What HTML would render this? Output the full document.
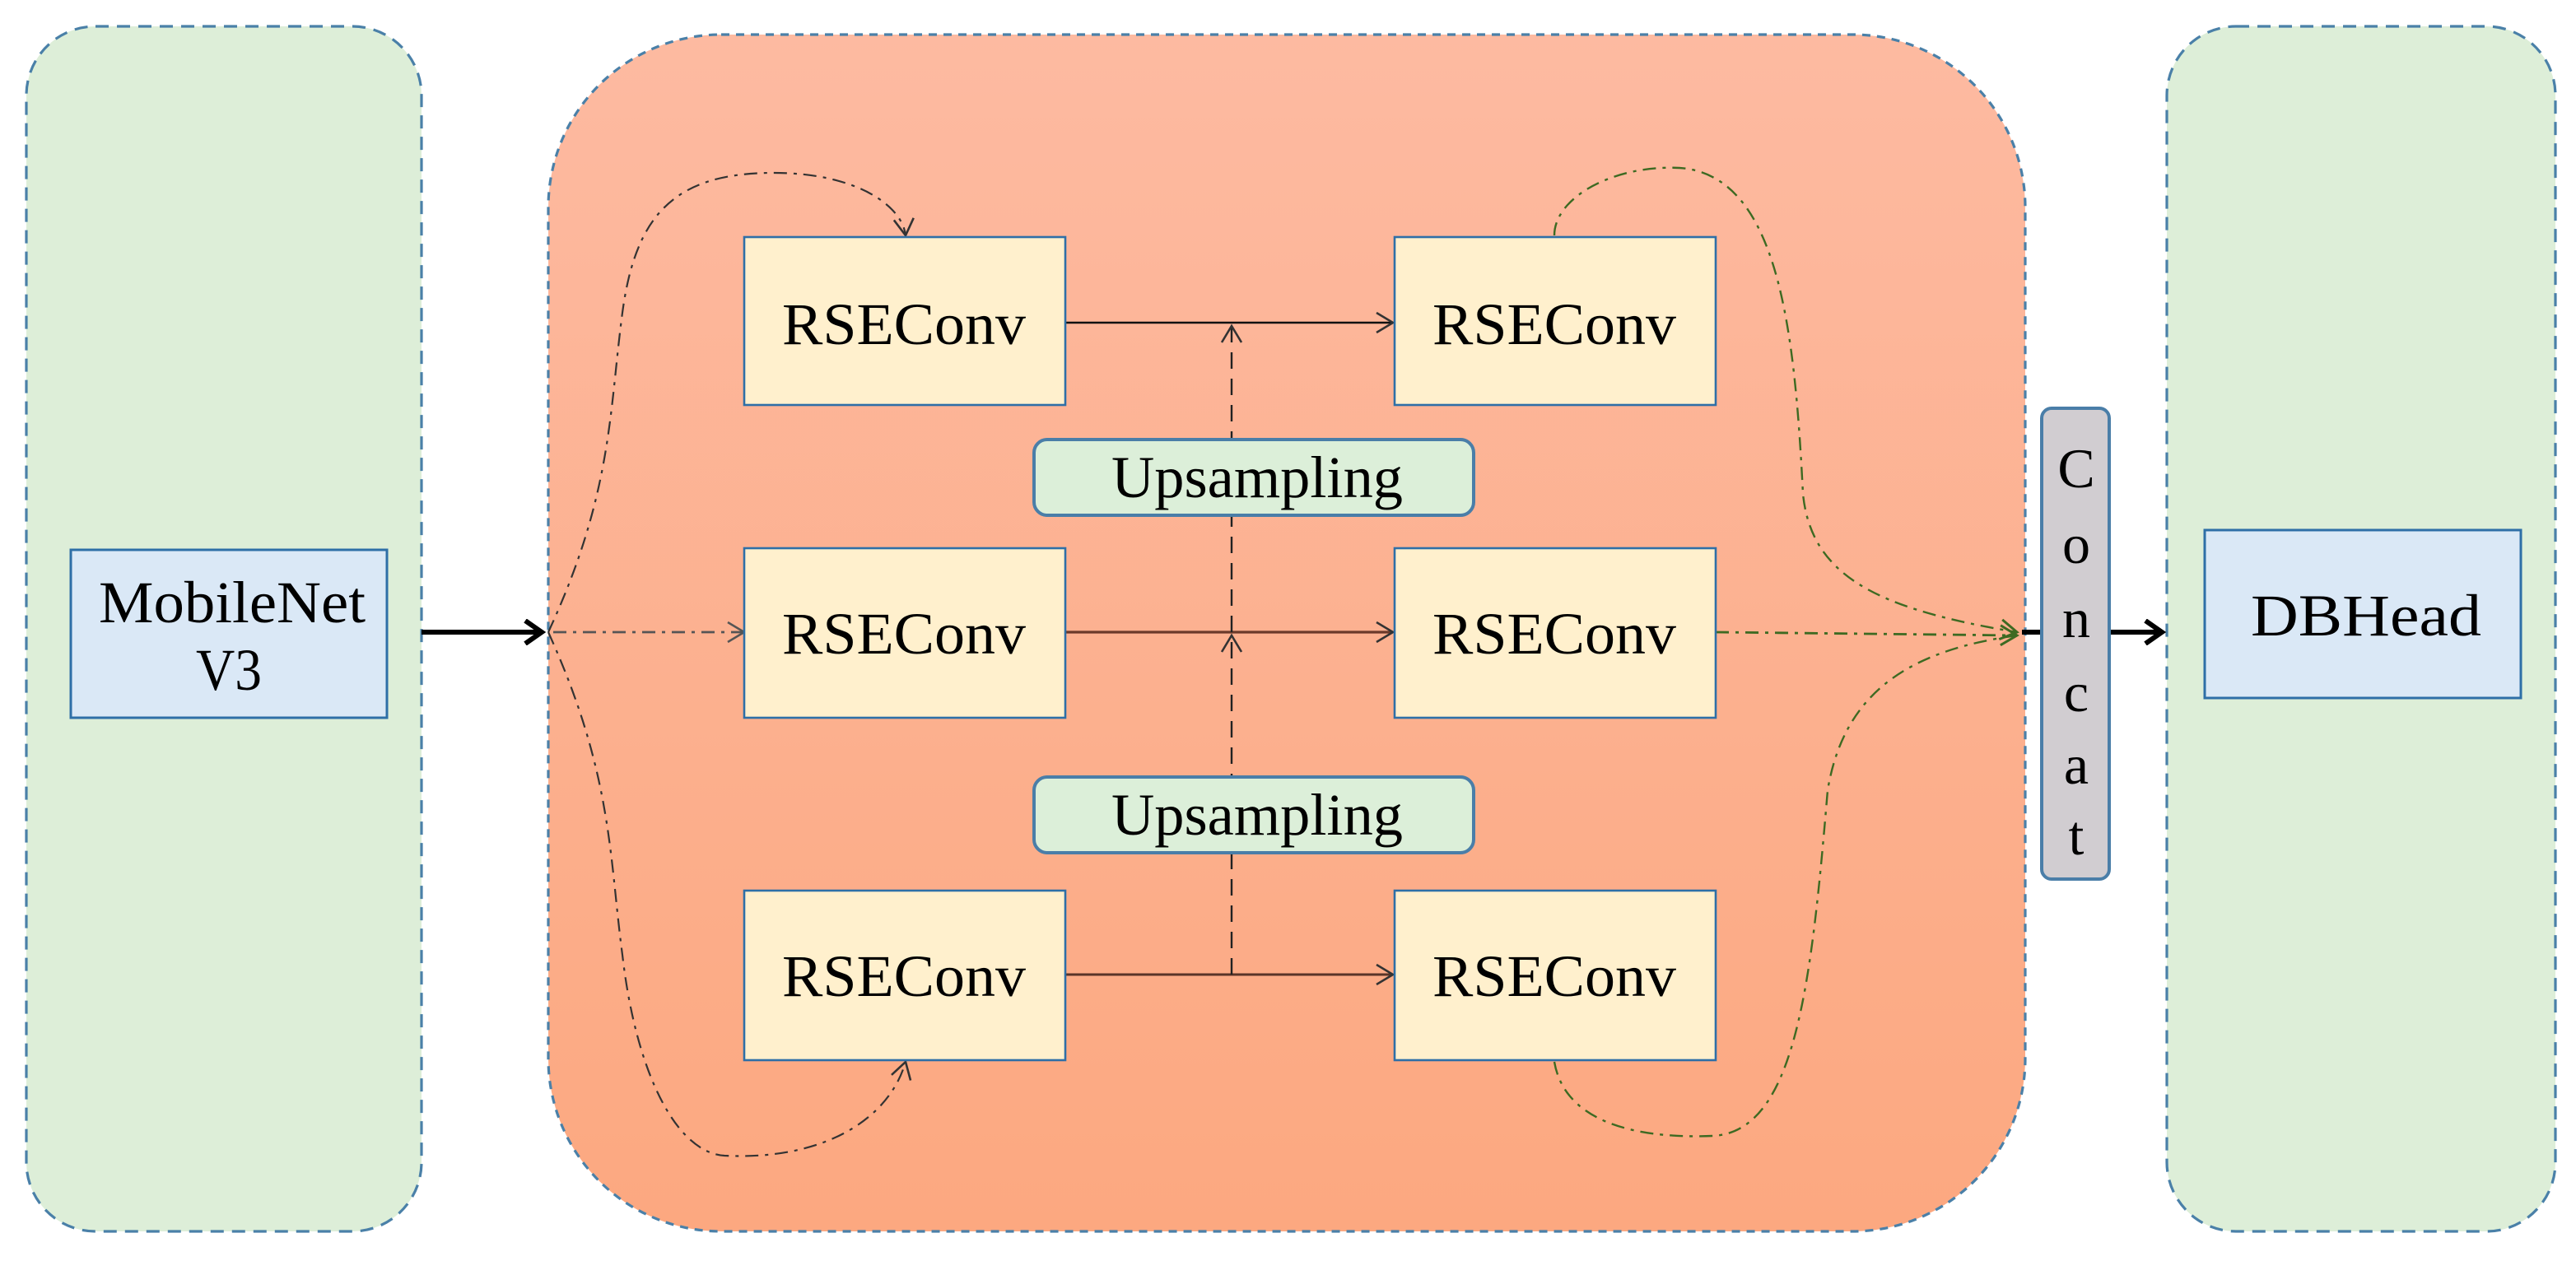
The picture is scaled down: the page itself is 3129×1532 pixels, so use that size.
<!DOCTYPE html>
<html><head><meta charset="utf-8"><style>
html,body{margin:0;padding:0;background:#fff;}
svg{display:block;}
text{font-family:"Liberation Serif",serif;fill:#000;}
</style></head><body>
<svg width="3129" height="1532" viewBox="0 0 1564.5 766" preserveAspectRatio="none" xmlns="http://www.w3.org/2000/svg">
<defs>
<linearGradient id="g" x1="0" y1="0" x2="0" y2="1">
<stop offset="0" stop-color="#fdbaa1"/><stop offset="1" stop-color="#fca880"/>
</linearGradient>
<marker id="oa" markerWidth="14" markerHeight="14" refX="12" refY="7" orient="auto" markerUnits="userSpaceOnUse">
<path d="M2,1 L12,7 L2,13" fill="none" stroke="#333" stroke-width="1.3"/></marker>
<marker id="ob" markerWidth="14" markerHeight="14" refX="12" refY="7" orient="auto" markerUnits="userSpaceOnUse">
<path d="M2,1 L12,7 L2,13" fill="none" stroke="#555" stroke-width="1.3"/></marker>
<marker id="og" markerWidth="14" markerHeight="14" refX="12" refY="7" orient="auto" markerUnits="userSpaceOnUse">
<path d="M2,1 L12,7 L2,13" fill="none" stroke="#3d6a22" stroke-width="1.5"/></marker>
<marker id="tk" markerWidth="16" markerHeight="16" refX="13" refY="8" orient="auto" markerUnits="userSpaceOnUse">
<path d="M3,1 L13,8 L3,15" fill="none" stroke="#000" stroke-width="3"/></marker>
</defs>
<rect x="16" y="16" width="240" height="732" rx="42" fill="#ddeed8" stroke="#4a80a8" stroke-width="1.6" stroke-dasharray="8,5"/>
<rect x="333" y="21" width="897" height="727" rx="105" fill="url(#g)" stroke="#4a80a8" stroke-width="1.6" stroke-dasharray="5,4"/>
<rect x="1316" y="16" width="236" height="732" rx="42" fill="#ddeed8" stroke="#4a80a8" stroke-width="1.6" stroke-dasharray="8,5"/>

<path d="M333,384 C372,300 370,250 378,190 C386,130 410,105 470,105 C520,105 548,125 550,143" fill="none" stroke="#333" stroke-width="1.1" stroke-dasharray="8,4,2,4" marker-end="url(#oa)"/>
<path d="M333,384 C372,470 370,520 378,580 C386,650 410,700 440,702 C500,705 540,680 550,645" fill="none" stroke="#333" stroke-width="1.1" stroke-dasharray="8,4,2,4" marker-end="url(#oa)"/>
<line x1="336" y1="384" x2="452" y2="384" stroke="#555" stroke-width="1.4" stroke-dasharray="8,4,2,4" marker-end="url(#ob)"/>

<path d="M944,143 C944,120 980,100 1020,102 C1080,106 1090,200 1095,300 C1100,350 1140,370 1225,384" fill="none" stroke="#3d6a22" stroke-width="1.2" stroke-dasharray="8,4,2,4" marker-end="url(#og)"/>
<line x1="1042" y1="384" x2="1225" y2="386" stroke="#3d6a22" stroke-width="1.4" stroke-dasharray="8,4,2,4" marker-end="url(#og)"/>
<path d="M944,645 C950,680 990,692 1040,690 C1090,688 1100,600 1110,480 C1120,420 1160,395 1225,386" fill="none" stroke="#3d6a22" stroke-width="1.2" stroke-dasharray="8,4,2,4"/>

<line x1="647" y1="196" x2="846" y2="196" stroke="#111" stroke-width="1.3" marker-end="url(#oa)"/>
<line x1="647" y1="384" x2="846" y2="384" stroke="#6b3a2a" stroke-width="1.6" marker-end="url(#oa)"/>
<line x1="647" y1="592" x2="846" y2="592" stroke="#5a3528" stroke-width="1.5" marker-end="url(#oa)"/>
<line x1="748" y1="592" x2="748" y2="386" stroke="#222" stroke-width="1.2" stroke-dasharray="10,6" marker-end="url(#oa)"/>
<line x1="748" y1="384" x2="748" y2="198" stroke="#222" stroke-width="1.2" stroke-dasharray="10,6" marker-end="url(#oa)"/>

<line x1="256" y1="384" x2="329" y2="384" stroke="#000" stroke-width="3" marker-end="url(#tk)"/>
<line x1="1282" y1="384" x2="1313" y2="384" stroke="#000" stroke-width="3" marker-end="url(#tk)"/>
<line x1="1228" y1="384" x2="1240" y2="384" stroke="#000" stroke-width="3"/>

<rect x="43" y="334" width="192" height="102" fill="#dae8f6" stroke="#2e6fa7" stroke-width="1.5"/>
<text x="60" y="378" font-size="36" textLength="162" lengthAdjust="spacingAndGlyphs">MobileNet</text>
<text x="139" y="419" font-size="36" text-anchor="middle" textLength="40" lengthAdjust="spacingAndGlyphs">V3</text>

<rect x="1339" y="322" width="192" height="102" fill="#dae8f6" stroke="#2e6fa7" stroke-width="1.5"/>
<text x="1367" y="386" font-size="36" textLength="140" lengthAdjust="spacingAndGlyphs">DBHead</text>

<g fill="#fff0cd" stroke="#2e6fa7" stroke-width="1.3">
<rect x="452" y="144" width="195" height="102"/>
<rect x="847" y="144" width="195" height="102"/>
<rect x="452" y="333" width="195" height="103"/>
<rect x="847" y="333" width="195" height="103"/>
<rect x="452" y="541" width="195" height="103"/>
<rect x="847" y="541" width="195" height="103"/>
</g>
<g font-size="36">
<text x="475" y="209" textLength="148" lengthAdjust="spacingAndGlyphs">RSEConv</text>
<text x="870" y="209" textLength="148" lengthAdjust="spacingAndGlyphs">RSEConv</text>
<text x="475" y="397" textLength="148" lengthAdjust="spacingAndGlyphs">RSEConv</text>
<text x="870" y="397" textLength="148" lengthAdjust="spacingAndGlyphs">RSEConv</text>
<text x="475" y="605" textLength="148" lengthAdjust="spacingAndGlyphs">RSEConv</text>
<text x="870" y="605" textLength="148" lengthAdjust="spacingAndGlyphs">RSEConv</text>
</g>

<rect x="628" y="267" width="267" height="46" rx="8" fill="#dcefd9" stroke="#4a7ea8" stroke-width="2"/>
<text x="675" y="302" font-size="36" textLength="177" lengthAdjust="spacingAndGlyphs">Upsampling</text>
<rect x="628" y="472" width="267" height="46" rx="8" fill="#dcefd9" stroke="#4a7ea8" stroke-width="2"/>
<text x="675" y="507" font-size="36" textLength="177" lengthAdjust="spacingAndGlyphs">Upsampling</text>

<rect x="1240" y="248" width="41" height="286" rx="6" fill="#d1cdd1" stroke="#4a7ea8" stroke-width="2"/>
<g font-size="34" text-anchor="middle">
<text x="1261" y="296">C</text>
<text x="1261" y="342">o</text>
<text x="1261" y="387">n</text>
<text x="1261" y="432">c</text>
<text x="1261" y="476">a</text>
<text x="1261" y="519">t</text>
</g>
</svg>
</body></html>
